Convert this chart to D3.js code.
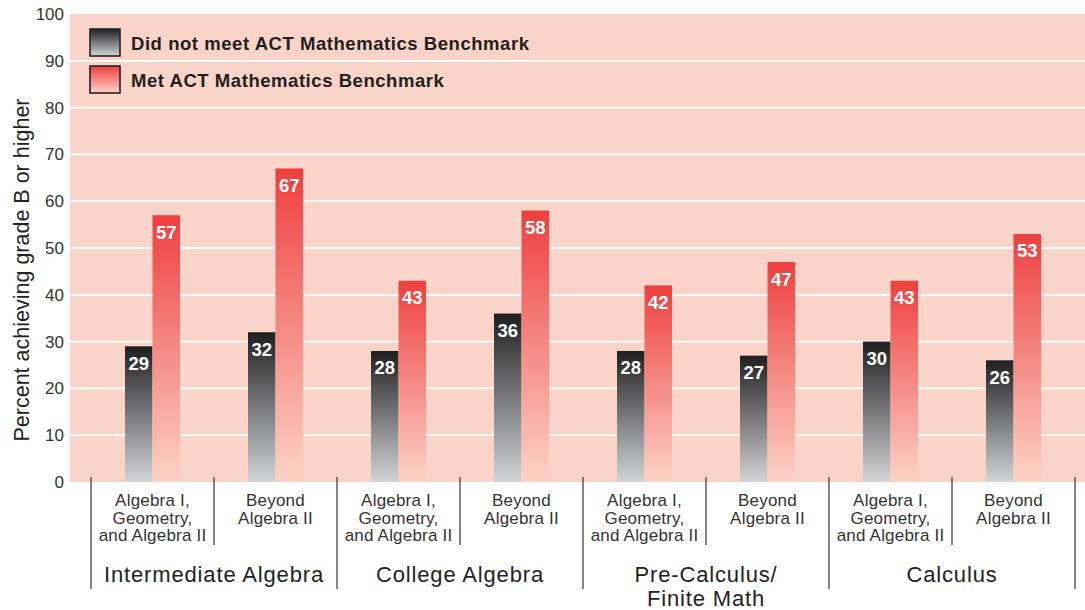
<!DOCTYPE html>
<html><head><meta charset="utf-8">
<script src="https://cdn.jsdelivr.net/npm/d3@7"></script>
<style>body{margin:0;background:#fff}svg{display:block;font-family:"Liberation Sans",Arial,Helvetica,sans-serif}</style>
</head><body><svg id="c" width="1085" height="610"></svg>
<script>
const courses = ["Intermediate Algebra", "College Algebra", "Pre-Calculus/|Finite Math", "Calculus"];
const preparation = ["Algebra I,|Geometry,|and Algebra II", "Beyond|Algebra II"];
const notMet = [29, 32, 28, 36, 28, 27, 30, 26];
const met = [57, 67, 43, 58, 42, 47, 43, 53];
const seriesNames = ["Did not meet ACT Mathematics Benchmark", "Met ACT Mathematics Benchmark"];
const yTicks = [0,10,20,30,40,50,60,70,80,90,100];

const svg = d3.select("#c");
const plot = {left:70, right:1085, top:14, bottom:482};
const xL = 91, xR = 1075;

const y = d3.scaleLinear().domain([0,100]).range([plot.bottom, plot.top]);
const groups = [];
courses.forEach((c,i)=>preparation.forEach((p,j)=>groups.push({course:i, prep:j, key:i+"-"+j})));
const x = d3.scaleBand().domain(groups.map(g=>g.key)).range([xL, xR]);
const xc = d3.scaleBand().domain(courses).range([xL, xR]);

const defs = svg.append("defs");
const g1 = defs.append("linearGradient").attr("id","gDark").attr("x1",0).attr("y1",0).attr("x2",0).attr("y2",1);
g1.append("stop").attr("offset","0%").attr("stop-color","#1f1f20");
g1.append("stop").attr("offset","100%").attr("stop-color","#d3d4d6");
const g2 = defs.append("linearGradient").attr("id","gRed").attr("x1",0).attr("y1",0).attr("x2",0).attr("y2",1);
g2.append("stop").attr("offset","0%").attr("stop-color","#ee3f3f");
g2.append("stop").attr("offset","100%").attr("stop-color","#fcd3c7");

svg.append("rect").attr("x",plot.left).attr("y",plot.top).attr("width",plot.right-plot.left).attr("height",plot.bottom-plot.top).attr("fill","#fbd4c9");
svg.append("g").selectAll("line").data(yTicks.slice(1,-1)).join("line")
  .attr("x1",plot.left).attr("x2",plot.right).attr("y1",d=>y(d)).attr("y2",d=>y(d))
  .attr("stroke","#fff").attr("stroke-width",1.8);

const ya = svg.append("g").attr("transform",`translate(${plot.left-4},0)`)
  .call(d3.axisLeft(y).tickValues(yTicks).tickSize(0).tickPadding(2));
ya.select(".domain").remove();
ya.selectAll("text").attr("font-size",17).attr("fill","#333").attr("font-family","Liberation Sans, Arial, sans-serif");

svg.append("text").attr("transform",`translate(29,270) rotate(-90)`)
  .attr("text-anchor","middle").attr("font-size",21.5).attr("fill","#222").text("Percent achieving grade B or higher");

const bw = 27.5;
const bars = svg.append("g");
groups.forEach((g,k)=>{
  const cx = x(g.key) + x.bandwidth()/2;
  [[notMet[k],"url(#gDark)",cx-bw],[met[k],"url(#gRed)",cx]].forEach(([v,f,bx])=>{
    bars.append("rect").attr("x",bx).attr("y",y(v)).attr("width",bw).attr("height",y(0)-y(v)).attr("fill",f);
    bars.append("text").attr("x",bx+bw/2).attr("y",y(v)+23.5).attr("text-anchor","middle")
      .attr("font-size",18.5).attr("font-weight","bold").attr("fill","#fff").text(v);
  });
});

const div = svg.append("g").attr("stroke","#333").attr("stroke-width",1.2);
groups.forEach(g=>{
  const xx = x(g.key);
  div.append("line").attr("x1",xx).attr("x2",xx).attr("y1",477).attr("y2", g.prep===0 ? 589 : 545);
});
div.append("line").attr("x1",xR).attr("x2",xR).attr("y1",477).attr("y2",589);

groups.forEach(g=>{
  const cx = x(g.key) + x.bandwidth()/2;
  const t = svg.append("text").attr("text-anchor","middle").attr("font-size",17).attr("fill","#333").attr("letter-spacing",0.2);
  preparation[g.prep].split("|").forEach((l,i)=>t.append("tspan").attr("x",cx).attr("y",506+i*17.5).text(l));
});
courses.forEach(c=>{
  const cx = xc(c) + xc.bandwidth()/2;
  const t = svg.append("text").attr("text-anchor","middle").attr("font-size",22).attr("fill","#222").attr("letter-spacing",0.85);
  c.split("|").forEach((l,i)=>t.append("tspan").attr("x",cx).attr("y",582+i*24).text(l));
});

const lg = svg.append("g");
[["url(#gDark)",0],["url(#gRed)",1]].forEach(([f,i])=>{
  lg.append("rect").attr("x",90).attr("y",29+i*37).attr("width",30).attr("height",27).attr("fill",f).attr("stroke","#222").attr("stroke-width",1.6);
  lg.append("text").attr("x",131).attr("y",50+i*37).attr("font-size",18.5).attr("font-weight","bold").attr("fill","#231f20").attr("letter-spacing",0.55).text(seriesNames[i]);
});
</script></body></html>
